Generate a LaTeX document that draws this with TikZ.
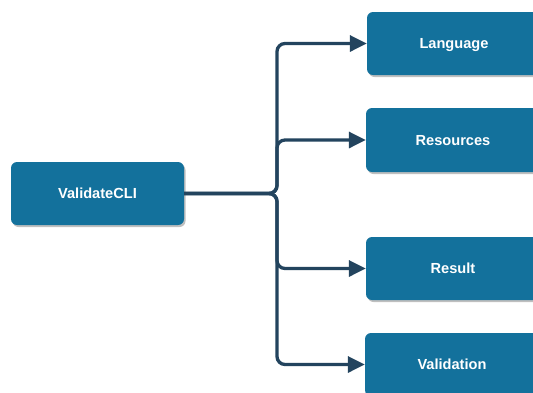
\documentclass[tikz,border=0pt]{standalone}
\usepackage{fontspec}
\setmainfont{Liberation Sans}
\usetikzlibrary{arrows.meta,shadows}
\definecolor{boxblue}{HTML}{13719C}
\definecolor{linkblue}{HTML}{23445E}
\tikzset{
  card/.style={rectangle, rounded corners=6pt, fill=boxblue, draw=none,
    minimum height=63pt, inner sep=0pt, text=white,
    text height=10.5pt, text depth=0pt,
    font=\fontsize{14.6}{16}\selectfont\bfseries,
    drop shadow={shadow xshift=1.5pt, shadow yshift=-2pt, opacity=0.25, fill=black}},
  link/.style={draw=linkblue, line width=3.3pt, rounded corners=8pt,
    -{Triangle[length=17pt,width=16pt]}}
}
\begin{document}
\begin{tikzpicture}[x=1pt,y=-1pt]
  \clip (0,0) rectangle (533,392);
  \fill[white] (0,0) rectangle (533,392);
  % source card
  \node[card, minimum width=173pt] (cli) at (97.5,193.5) {ValidateCLI};
  % target cards (run past the right edge)
  \node[card, minimum width=174pt] (lang) at (454,43.5) {Language};
  \node[card, minimum width=174pt, minimum height=64pt] (res) at (453,140) {Resources};
  \node[card, minimum width=174pt] (result) at (453,268.5) {Result};
  \node[card, minimum width=174pt] (valid) at (452,364.5) {Validation};
  % branching connectors
  \coordinate (bus) at (277,193.5);
  \draw[link] (cli.east) -- (bus) |- (lang.west);
  \draw[link] (cli.east) -- (bus) |- (res.west);
  \draw[link] (cli.east) -- (bus) |- (result.west);
  \draw[link] (cli.east) -- (bus) |- (valid.west);
\end{tikzpicture}
\end{document}
